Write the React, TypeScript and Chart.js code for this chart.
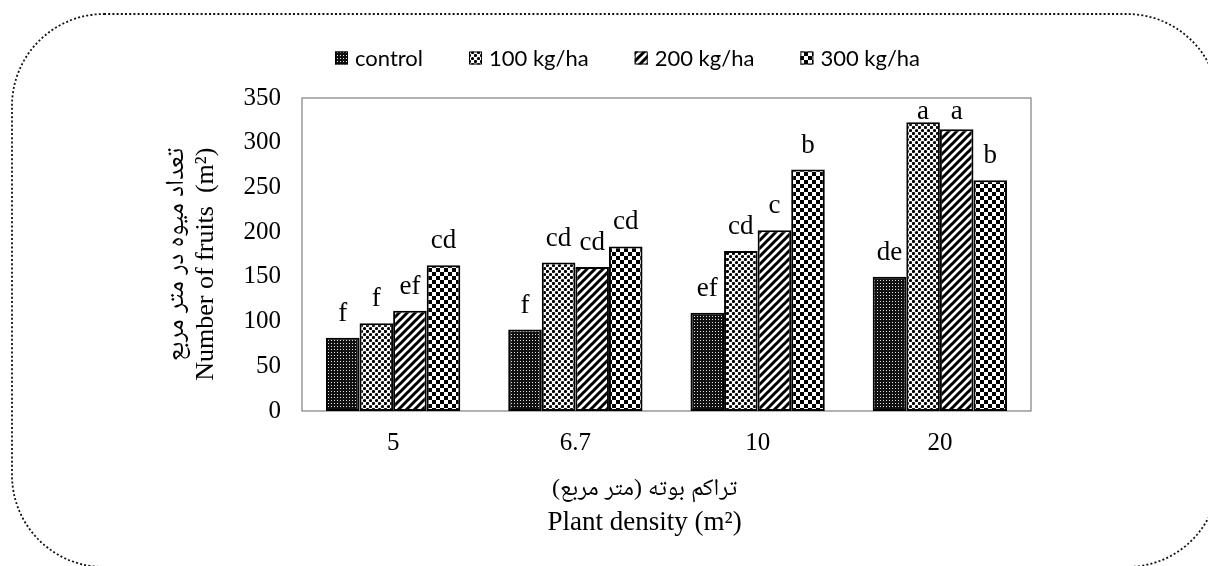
import React, { useEffect, useRef } from "react";
import { Chart, registerables } from "chart.js";

Chart.register(...registerables);

// ---- data ----
const categories = ["5", "6.7", "10", "20"];
const seriesNames = ["control", "100 kg/ha", "200 kg/ha", "300 kg/ha"];
const controlValues = [82, 91, 110, 150];
const kg100Values = [98, 166, 179, 323];
const kg200Values = [112, 161, 202, 315];
const kg300Values = [163, 184, 270, 258];
const controlLetters = ["f", "f", "ef", "de"];
const kg100Letters = ["f", "cd", "cd", "a"];
const kg200Letters = ["ef", "cd", "c", "a"];
const kg300Letters = ["cd", "cd", "b", "b"];
const yMin = 0;
const yMax = 350;
const yStep = 50;
const yTitle = ["تعداد میوه در متر مربع", "Number of fruits  (m²)   "];
const xTitle = ["تراکم بوته (متر مربع)", "Plant density (m²)"];

const serif = "'Liberation Serif', 'Times New Roman', serif";
const arabicSerif = "'Liberation Serif', 'Noto Naskh Arabic', 'Noto Serif Arabic', 'Noto Sans Arabic', 'DejaVu Sans', serif";
const sans = "Lato, 'Liberation Sans', sans-serif";

function makeTile(size: number, draw: (c: CanvasRenderingContext2D) => void): CanvasPattern {
  const cv = document.createElement("canvas");
  cv.width = size;
  cv.height = size;
  const c = cv.getContext("2d")!;
  draw(c);
  return c.createPattern(cv, "repeat")!;
}

function patterns(): CanvasPattern[] {
  const ctrl = makeTile(3, (c) => {
    c.fillStyle = "#111";
    c.fillRect(0, 0, 3, 3);
    c.fillStyle = "#e0e0e0";
    c.fillRect(1, 1, 1, 1);
  });
  const dots = makeTile(6, (c) => {
    c.fillStyle = "#fff";
    c.fillRect(0, 0, 6, 6);
    c.fillStyle = "#000";
    c.beginPath();
    c.arc(1.5, 1.5, 1.6, 0, Math.PI * 2);
    c.fill();
    c.beginPath();
    c.arc(4.5, 4.5, 1.6, 0, Math.PI * 2);
    c.fill();
  });
  const diag = makeTile(8, (c) => {
    c.fillStyle = "#fff";
    c.fillRect(0, 0, 8, 8);
    c.strokeStyle = "#000";
    c.lineWidth = 3;
    c.beginPath();
    c.moveTo(-1, 9);
    c.lineTo(9, -1);
    c.moveTo(-2, 2);
    c.lineTo(2, -2);
    c.moveTo(6, 10);
    c.lineTo(10, 6);
    c.stroke();
  });
  const check = makeTile(8, (c) => {
    c.fillStyle = "#fff";
    c.fillRect(0, 0, 8, 8);
    c.fillStyle = "#000";
    c.fillRect(0, 0, 4, 4);
    c.fillRect(4, 4, 4, 4);
  });
  return [ctrl, dots, diag, check];
}

const letterSets = [controlLetters, kg100Letters, kg200Letters, kg300Letters];

const framePlugin = {
  id: "frameAndBorder",
  beforeDraw(chart: any) {
    const ctx = chart.ctx;
    ctx.save();
    ctx.fillStyle = "#fff";
    ctx.fillRect(0, 0, chart.width, chart.height);
    ctx.setLineDash([2, 2.2]);
    ctx.lineWidth = 1.8;
    ctx.strokeStyle = "#111";
    ctx.beginPath();
    (ctx as any).roundRect(12, 14, 1219 - 12, 567 - 14, 92);
    ctx.stroke();
    ctx.restore();
  },
  beforeDatasetsDraw(chart: any) {
    const { ctx, chartArea: a } = chart;
    ctx.save();
    ctx.strokeStyle = "#7f7f7f";
    ctx.lineWidth = 1.2;
    ctx.strokeRect(a.left, a.top, a.right - a.left, a.bottom - a.top);
    ctx.restore();
  },
  afterDraw(chart: any) {
    const { ctx, chartArea: a } = chart;
    ctx.save();
    // letters above bars
    ctx.font = `27px ${serif}`;
    ctx.fillStyle = "#000";
    ctx.textAlign = "center";
    ctx.textBaseline = "alphabetic";
    chart.data.datasets.forEach((ds: any, i: number) => {
      const meta = chart.getDatasetMeta(i);
      meta.data.forEach((bar: any, j: number) => {
        const y = Math.max(bar.y - 17, a.top + 21);
        ctx.fillText(letterSets[i][j], bar.x, y);
      });
    });
    // legend
    ctx.font = `22px ${sans}`;
    ctx.textAlign = "left";
    ctx.textBaseline = "middle";
    let x = 335;
    const cy = 58;
    chart.data.datasets.forEach((ds: any) => {
      ctx.fillStyle = ds.backgroundColor;
      ctx.fillRect(x, cy - 6.5, 13, 13);
      ctx.strokeStyle = "#000";
      ctx.lineWidth = 1;
      ctx.strokeRect(x + 0.5, cy - 6, 12, 12);
      ctx.fillStyle = "#000";
      ctx.fillText(ds.label, x + 20, cy + 1);
      x += 20 + ctx.measureText(ds.label).width + 46;
    });
    // x axis title
    const tx = a.left + (a.right - a.left) * 0.47;
    ctx.textAlign = "center";
    ctx.textBaseline = "alphabetic";
    ctx.font = `24px ${arabicSerif}`;
    (ctx as any).direction = "rtl";
    ctx.fillText(xTitle[0], tx, 495);
    (ctx as any).direction = "ltr";
    ctx.font = `27px ${serif}`;
    ctx.fillText(xTitle[1], tx, 530);
    ctx.restore();
  },
};

export default function App() {
  const ref = useRef<HTMLCanvasElement>(null);
  useEffect(() => {
    const pats = patterns();
    const values = [controlValues, kg100Values, kg200Values, kg300Values];
    const chart = new Chart(ref.current!, {
      type: "bar",
      data: {
        labels: categories,
        datasets: seriesNames.map((name, i) => ({
          label: name,
          data: values[i],
          backgroundColor: pats[i] as any,
          borderColor: "#000",
          borderWidth: 2,
          borderSkipped: false,
          barPercentage: 1,
          categoryPercentage: 0.737,
        })),
      },
      options: {
        animation: false,
        responsive: false,
        layout: { padding: { left: 150, right: 177, top: 98, bottom: 115 } },
        plugins: { legend: { display: false }, tooltip: { enabled: false } },
        scales: {
          x: {
            grid: { display: false, drawTicks: false },
            border: { display: false },
            ticks: { font: { family: serif, size: 25 }, color: "#000", padding: 17 },
            afterFit: (s: any) => {
              s.height = 40;
            },
          },
          y: {
            min: yMin,
            max: yMax,
            grid: { display: false, drawTicks: false },
            border: { display: false },
            ticks: { stepSize: yStep, font: { family: serif, size: 25 }, color: "#000", padding: 21 },
            title: {
              display: true,
              text: yTitle,
              color: "#000",
              font: { family: arabicSerif, size: 26, lineHeight: 1.16 },
              padding: { top: 11, bottom: 0 },
            },
            afterFit: (s: any) => {
              s.width = 152;
            },
          },
        },
      },
      plugins: [framePlugin],
    });
    return () => chart.destroy();
  }, []);
  return (
    <div style={{ position: "fixed", left: 0, top: 0, width: 1208, height: 566 }}>
      <canvas ref={ref} width={1208} height={566} style={{ width: 1208, height: 566 }} />
    </div>
  );
}
